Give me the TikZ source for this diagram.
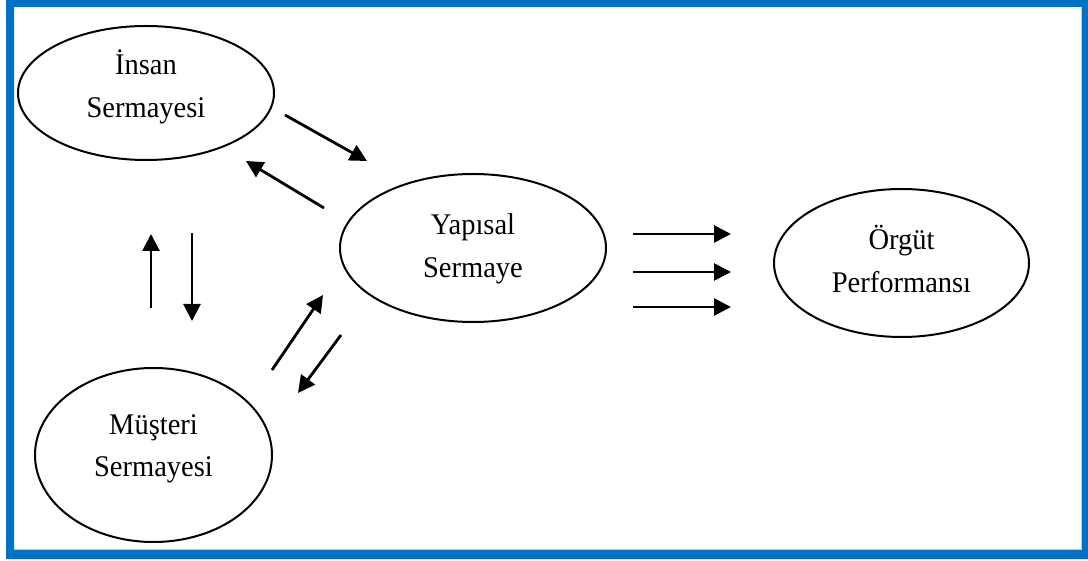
\documentclass[tikz,border=0pt]{standalone}
\usepackage{fontspec}
\setmainfont{Liberation Serif}
\newfontfamily\ovalfont[FakeStretch=0.95]{Liberation Serif}
\usetikzlibrary{shapes.geometric,arrows.meta}
\definecolor{frameblue}{RGB}{0,114,198}
\definecolor{shadowgrey}{RGB}{200,200,200}
\begin{document}
\begin{tikzpicture}[x=1pt,y=-1pt,
  oval/.style={ellipse, draw=black, line width=2pt, inner sep=0pt,
    align=center, font=\ovalfont\fontsize{30}{43}\selectfont, text height=63pt},
  flow/.style={line width=2.8pt, -{Triangle[length=17pt,width=17pt]}}]
\useasboundingbox (0,0) rectangle (1088,561);
% frame
\fill[frameblue, even odd rule] (6,0) rectangle (1088,559) (14,7) rectangle (1082,550);
\draw[shadowgrey, line width=1pt] (1081,7) -- (1081,549.5) -- (14,549.5);

% capital nodes
\node[oval, text depth=13pt, minimum width=256pt, minimum height=134pt] (insan) at (146,93) {İnsan\\Sermayesi};
\node[oval, text depth=3pt, minimum width=266pt, minimum height=148pt] (yapisal) at (473,248) {Yapısal\\Sermaye};
\node[oval, text depth=3pt, minimum width=255pt, minimum height=148pt] (orgut) at (901.5,263) {Örgüt\\Performansı};
\node[oval, text depth=19pt, minimum width=237pt, minimum height=174pt] (musteri) at (153.5,455) {Müşteri\\Sermayesi};

% arrow end points
\coordinate (iy1) at (285,115);  \coordinate (iy2) at (367,161);
\coordinate (yi1) at (324,208);  \coordinate (yi2) at (246,161);
\coordinate (mi1) at (151,308);  \coordinate (mi2) at (151,234);
\coordinate (im1) at (192,233);  \coordinate (im2) at (192,321);
\coordinate (my1) at (272,370);  \coordinate (my2) at (323,295);
\coordinate (ym1) at (341,335);  \coordinate (ym2) at (298,393);
\coordinate (yo1a) at (633,234); \coordinate (yo2a) at (731,234);
\coordinate (yo1b) at (633,272); \coordinate (yo2b) at (731,272);
\coordinate (yo1c) at (633,307); \coordinate (yo2c) at (731,307);

% arrows
\draw[flow] (iy1) -- (iy2);
\draw[flow] (yi1) -- (yi2);
\draw[flow] (mi1) -- (mi2);
\draw[flow] (im1) -- (im2);
\draw[flow] (my1) -- (my2);
\draw[flow] (ym1) -- (ym2);
\draw[flow] (yo1a) -- (yo2a);
\draw[flow] (yo1b) -- (yo2b);
\draw[flow] (yo1c) -- (yo2c);
\end{tikzpicture}
\end{document}
